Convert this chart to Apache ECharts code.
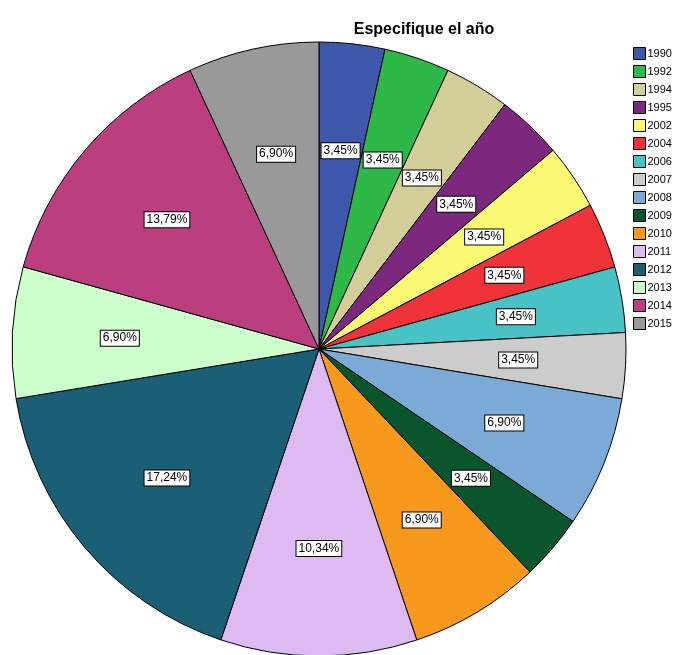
<!DOCTYPE html>
<html>
<head>
<meta charset="utf-8">
<script src="https://cdn.jsdelivr.net/npm/echarts@6/dist/echarts.min.js"></script>
<style>
html,body{margin:0;padding:0;background:#ffffff;}
#chart{width:680px;height:655px;}
</style>
</head>
<body>
<div id="chart"></div>
<script>
// años y porcentajes
var years = ['1990','1992','1994','1995','2002','2004','2006','2007','2008','2009','2010','2011','2012','2013','2014','2015'];
var percents = [3.45,3.45,3.45,3.45,3.45,3.45,3.45,3.45,6.90,3.45,6.90,10.34,17.24,6.90,13.79,6.90];
var colors = ['#3E58AC','#2EB848','#D3CE97','#7C287D','#FBF873','#EF3338','#48C2C5','#CCCCCC',
              '#7AAAD5','#0A562C','#F8981D','#DDBAF1','#1A5F76','#CCFFCC','#BB3F7F','#999999'];

var data = years.map(function(y, i){
    return {name: y, value: percents[i], itemStyle: {color: colors[i]}};
});

var myChart = echarts.init(document.getElementById('chart'));
myChart.setOption({
    animation: false,
    title: {
        text: 'Especifique el año',
        left: 419,
        top: 17,
        textAlign: 'center',
        textStyle: {fontFamily: 'Liberation Sans', fontSize: 16, fontWeight: 'bold', color: '#000'}
    },
    legend: {
        orient: 'vertical',
        left: 628,
        top: 42,
        itemWidth: 12,
        itemHeight: 12,
        itemGap: 5,
        icon: 'rect',
        itemStyle: {borderColor: '#000', borderWidth: 1},
        textStyle: {fontFamily: 'Liberation Sans', fontSize: 11, color: '#000', padding: [0,0,0,-3]},
        data: years
    },
    series: [{
        type: 'pie',
        center: [319, 349],
        radius: [0, 307],
        startAngle: 90,
        clockwise: true,
        label: {show: false},
        labelLine: {show: false},
        itemStyle: {borderColor: '#000', borderWidth: 1},
        emphasis: {disabled: true},
        data: data
    }, {
        // serie transparente solo para colocar las etiquetas a ~0.64 del radio
        type: 'pie',
        center: [319, 349],
        radius: [86, 307],
        startAngle: 90,
        clockwise: true,
        silent: true,
        itemStyle: {color: 'rgba(0,0,0,0)', borderWidth: 0},
        emphasis: {disabled: true},
        label: {
            show: true,
            position: 'inside',
            formatter: function(p){ return p.value.toFixed(2).replace('.', ',') + '%'; },
            fontFamily: 'Liberation Sans',
            fontSize: 12,
            color: '#000',
            backgroundColor: '#fff',
            borderColor: '#000',
            borderWidth: 1,
            padding: [2, 2, 1, 2]
        },
        labelLine: {show: false},
        data: years.map(function(y, i){ return {name: y, value: percents[i]}; })
    }]
});
</script>
</body>
</html>
